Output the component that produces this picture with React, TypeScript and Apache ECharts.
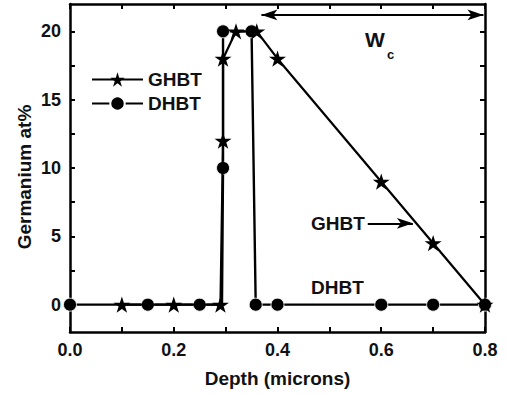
import React, { useEffect, useRef } from "react";
import * as echarts from "echarts";

// ---- data ----
const ghbtX = [0.1, 0.2, 0.29, 0.295, 0.295, 0.32, 0.36, 0.4, 0.6, 0.7, 0.8];
const ghbtY = [0, 0, 0, 12, 18, 20, 20, 18, 9, 4.5, 0];
const dhbtX = [0, 0.15, 0.25, 0.293, 0.295, 0.295, 0.35, 0.358, 0.4, 0.6, 0.7, 0.8];
const dhbtY = [0, 0, 0, 0, 10, 20, 20, 0, 0, 0, 0, 0];
const dhbtMarker = [true, true, true, false, true, true, true, true, true, true, true, true];
const xTickLabels = ["0.0", "0.2", "0.4", "0.6", "0.8"];
const yTickValues = [0, 2.5, 5, 7.5, 10, 12.5, 15, 17.5, 20];
const yLabelValues = [0, 5, 10, 15, 20];
const wcArrow = { x0: 0.369, x1: 0.797, y: 21.2 };
const ghbtPointer = { x0: 0.574, x1: 0.661, y: 5.95 };

const FONT = "'Liberation Sans', Arial, Helvetica, sans-serif";
const STAR =
  "path://M0,-100L22.45,-30.9L95.11,-30.9L36.33,11.8L58.78,80.9L0,38.2L-58.78,80.9L-36.33,11.8L-95.11,-30.9L-22.45,-30.9Z";

export default function App() {
  const ref = useRef<HTMLDivElement>(null);
  useEffect(() => {
    if (!ref.current) return;
    const chart = echarts.init(ref.current, null, { renderer: "svg" });
    const axisLine = { show: true, onZero: false, lineStyle: { color: "#000", width: 2.5 } };
    const tick = { show: true, inside: true, length: 5, lineStyle: { color: "#000", width: 2 } };
    const labelStyle = { color: "#111", fontSize: 18, fontWeight: "bold" as const, fontFamily: FONT };
    const ghbtData = ghbtX.map((x, i) => [x, ghbtY[i]]);
    const dhbtData = dhbtX.map((x, i) =>
      dhbtMarker[i] ? { value: [x, dhbtY[i]] } : { value: [x, dhbtY[i]], symbol: "none" }
    );
    chart.setOption({
      animation: false,
      backgroundColor: "#fff",
      grid: { left: 70, right: 22, top: 4, bottom: 63, containLabel: false },
      legend: {
        data: ["GHBT", "DHBT"],
        orient: "vertical",
        left: 91,
        top: 70,
        padding: 0,
        itemWidth: 51,
        itemHeight: 18,
        itemGap: 5,
        textStyle: { color: "#111", fontSize: 19, fontWeight: "bold", fontFamily: FONT },
      },
      xAxis: [
        {
          type: "value",
          position: "bottom",
          min: 0,
          max: 0.8,
          interval: 0.1,
          axisLine,
          axisTick: tick,
          axisLabel: {
            ...labelStyle,
            margin: 9,
            formatter: (v: number) => {
              const k = Math.round(v * 10);
              return k % 2 === 0 ? xTickLabels[k / 2] : "";
            },
          },
          splitLine: { show: false },
          name: "Depth (microns)",
          nameLocation: "middle",
          nameGap: 37,
          nameTextStyle: { color: "#111", fontSize: 19, fontWeight: "bold", fontFamily: FONT },
        },
        {
          type: "value",
          position: "top",
          min: 0,
          max: 0.8,
          interval: 0.1,
          axisLine,
          axisTick: tick,
          axisLabel: { show: false },
          splitLine: { show: false },
        },
      ],
      yAxis: [
        {
          type: "value",
          position: "left",
          min: -2,
          max: 22,
          axisLine,
          axisTick: { ...tick, customValues: yTickValues },
          axisLabel: { ...labelStyle, margin: 9, customValues: yLabelValues },
          splitLine: { show: false },
        },
        {
          type: "value",
          position: "right",
          min: -2,
          max: 22,
          axisLine,
          axisTick: { ...tick, customValues: yTickValues },
          axisLabel: { show: false },
          splitLine: { show: false },
        },
      ],
      series: [
        {
          name: "GHBT",
          type: "line",
          xAxisIndex: 0,
          yAxisIndex: 0,
          data: ghbtData,
          symbol: STAR,
          symbolSize: 17,
          symbolKeepAspect: true,
          lineStyle: { color: "#000", width: 2.2 },
          itemStyle: { color: "#000" },
          z: 3,
          markLine: {
            silent: true,
            animation: false,
            label: { show: false },
            lineStyle: { color: "#000", width: 2, type: "solid" },
            symbolSize: [8, 16],
            data: [
              [
                { coord: [wcArrow.x0, wcArrow.y], symbol: "arrow" },
                { coord: [wcArrow.x1, wcArrow.y], symbol: "arrow" },
              ],
              [
                { coord: [ghbtPointer.x0, ghbtPointer.y], symbol: "none" },
                { coord: [ghbtPointer.x1, ghbtPointer.y], symbol: "arrow" },
              ],
            ],
          },
        },
        {
          name: "DHBT",
          type: "line",
          xAxisIndex: 0,
          yAxisIndex: 0,
          data: dhbtData,
          symbol: "circle",
          symbolSize: 13,
          lineStyle: { color: "#000", width: 2.4 },
          itemStyle: { color: "#000", borderColor: "#fff", borderWidth: 0.8 },
          z: 2,
        },
      ],
      graphic: [
        {
          type: "text",
          x: 24,
          y: 177,
          rotation: Math.PI / 2,
          style: {
            text: "Germanium at%",
            font: `bold 19px ${FONT}`,
            fill: "#111",
            align: "center",
            verticalAlign: "middle",
            textAlign: "center",
            textVerticalAlign: "middle",
          },
        },
        {
          type: "text",
          x: 311,
          y: 223,
          style: {
            text: "GHBT",
            font: `bold 19px ${FONT}`,
            fill: "#111",
            align: "left",
            verticalAlign: "middle",
            textAlign: "left",
            textVerticalAlign: "middle",
          },
        },
        {
          type: "text",
          x: 311,
          y: 287,
          style: {
            text: "DHBT",
            font: `bold 19px ${FONT}`,
            fill: "#111",
            align: "left",
            verticalAlign: "middle",
            textAlign: "left",
            textVerticalAlign: "middle",
          },
        },
        {
          type: "text",
          x: 365,
          y: 39,
          style: {
            text: "W",
            font: `bold 21px ${FONT}`,
            fill: "#111",
            align: "left",
            verticalAlign: "middle",
            textAlign: "left",
            textVerticalAlign: "middle",
          },
        },
        {
          type: "text",
          x: 387,
          y: 54,
          style: {
            text: "c",
            font: `bold 13px ${FONT}`,
            fill: "#111",
            align: "left",
            verticalAlign: "middle",
            textAlign: "left",
            textVerticalAlign: "middle",
          },
        },
      ],
    });
    return () => chart.dispose();
  }, []);
  return <div ref={ref} style={{ width: 507, height: 395, position: "absolute", left: 0, top: 0 }} />;
}
